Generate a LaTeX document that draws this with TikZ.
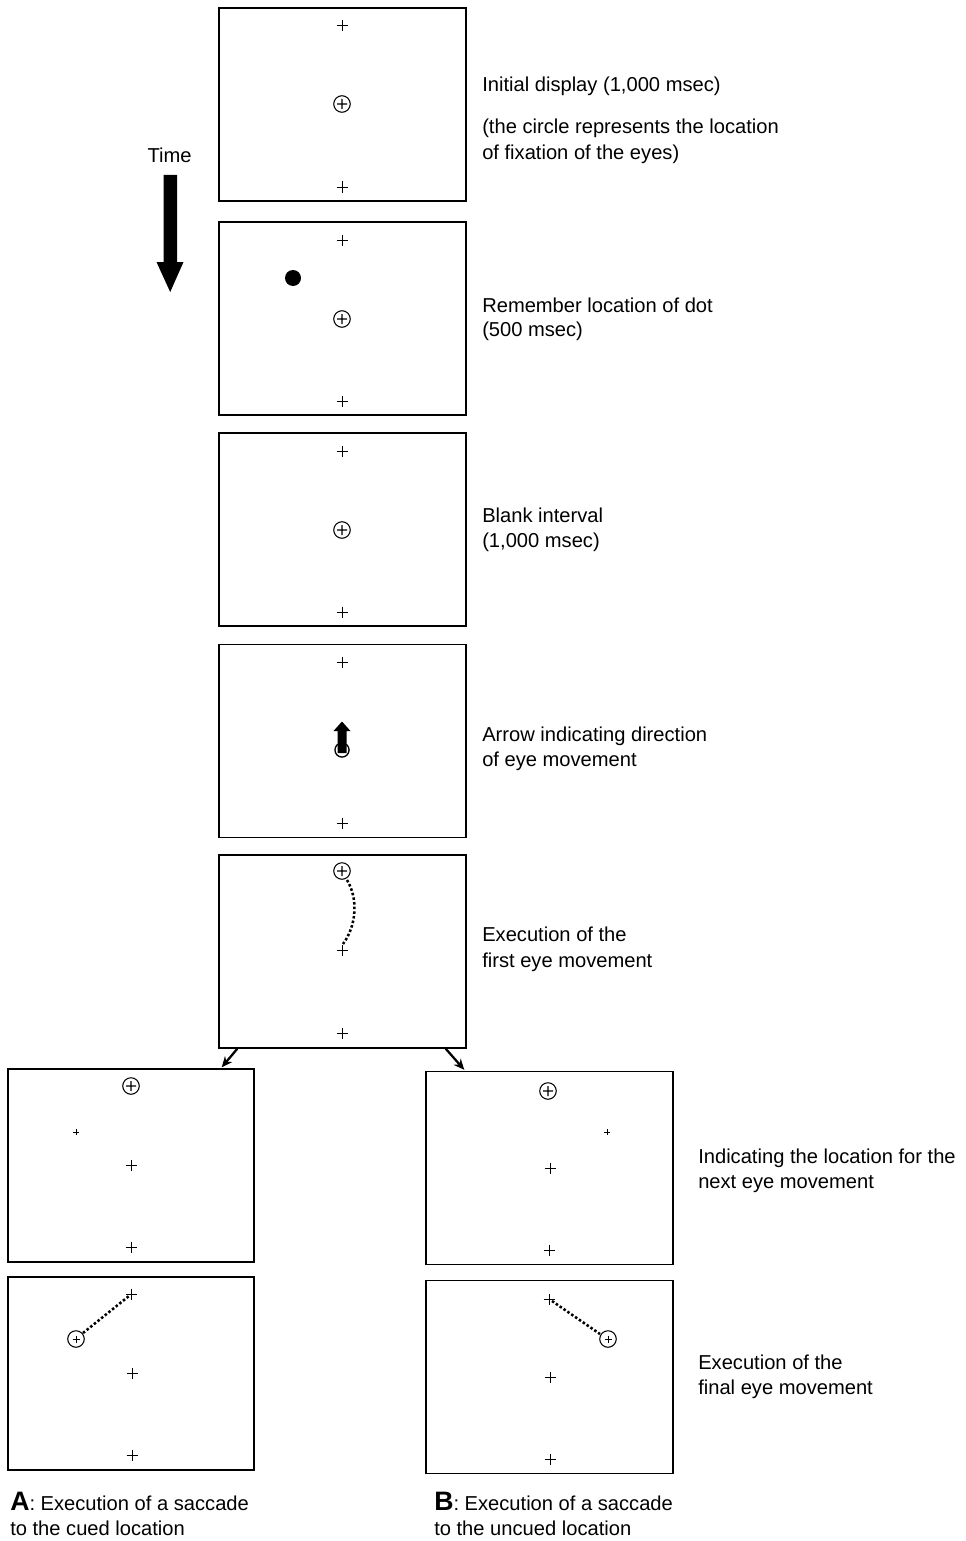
\documentclass[tikz,border=0pt]{standalone}
\usepackage{fontspec}
\setmainfont{Liberation Sans}
\usetikzlibrary{arrows.meta,calc}
\tikzset{
  panel/.style={draw, line width=1.1pt, minimum width=185.25pt, minimum height=144.75pt, inner sep=0pt},
  txt/.style={anchor=base west, inner sep=0pt, font=\fontsize{15.1pt}{18.75pt}\selectfont},
  crossmark/.pic={\draw[line width=0.75pt] (-5.5,0)--(5.5,0) (0,-5.5)--(0,5.5);},
  smallcross/.pic={\draw[line width=0.6pt] (-3,0)--(3,0) (0,-3)--(0,3);},
  fixmark/.pic={\draw[line width=0.8pt] (0,0) circle[radius=6.2pt] (-5,0)--(5,0) (0,-5)--(0,5);},
  fixsmall/.pic={\draw[line width=0.8pt] (0,0) circle[radius=6.2pt]; \draw[line width=0.6pt] (-3.5,0)--(3.5,0) (0,-3.5)--(0,3.5);},
  saccade/.style={line width=1.9pt, dash pattern=on 1.9pt off 1.6pt},
  branch/.style={line width=1.7pt, -{Stealth[length=8pt,width=7pt]}}
}
\begin{document}
\begin{tikzpicture}[x=0.75pt,y=-0.75pt]
\useasboundingbox (0,0) rectangle (965,1541);

% panels
\node[panel] (p1) at (342.5,104.5) {};
\node[panel] (p2) at (342.5,318.5) {};
\node[panel] (p3) at (342.5,529.5) {};
\node[panel] (p4) at (342.5,741) {};
\node[panel] (p5) at (342.5,951.5) {};
\node[panel, minimum width=184.5pt] (a1) at (131,1165.5) {};
\node[panel, minimum width=184.5pt] (a2) at (131,1373.5) {};
\node[panel] (b1) at (549.5,1168) {};
\node[panel] (b2) at (549.5,1377) {};

% panel 1
\pic at (342,26) {crossmark};
\pic at (342,104) {fixmark};
\pic at (342,187) {crossmark};
% panel 2
\pic at (342,240) {crossmark};
\fill (293,278) circle[radius=6pt];
\pic at (342,319) {fixmark};
\pic at (342,401) {crossmark};
% panel 3
\pic at (342,451) {crossmark};
\pic at (342,530) {fixmark};
\pic at (342,612) {crossmark};
% panel 4
\pic at (342,662) {crossmark};
\draw[line width=1pt] (342,750) circle[radius=5.3pt];
\fill (337.5,753) -- (337.5,731) -- (333.5,731) -- (342,721.5) -- (350.5,731) -- (346.5,731) -- (346.5,753) -- cycle;
\pic at (342,823) {crossmark};
% panel 5
\pic at (342,871) {fixmark};
\coordinate (c5s) at (347,880);
\coordinate (c5e) at (343,944);
\draw[saccade] (c5s) .. controls (358,898) and (357,925) .. (c5e);
\pic at (342,950) {crossmark};
\pic at (342,1033) {crossmark};
% branch arrows
\draw[branch] ($(p5.south west)+(19,0)$) -- ($(a1.north east)+(-33,-1)$);
\draw[branch] ($(p5.south east)+(-21,0)$) -- ($(b1.north west)+(39,-1)$);
% A1
\pic at (131,1086) {fixmark};
\pic at (76,1132) {smallcross};
\pic at (131,1165) {crossmark};
\pic at (131,1247) {crossmark};
% A2
\pic at (131,1294) {crossmark};
\pic at (76,1339) {fixsmall};
\coordinate (a2c) at (83,1333);
\coordinate (a2p) at (129,1296);
\draw[saccade] (a2c) -- (a2p);
\pic at (132,1373) {crossmark};
\pic at (132,1455) {crossmark};
% B1
\pic at (548,1091) {fixmark};
\pic at (607,1132) {smallcross};
\pic at (550,1168) {crossmark};
\pic at (549,1250) {crossmark};
% B2
\pic at (549,1299) {crossmark};
\pic at (608,1339) {fixsmall};
\coordinate (b2p) at (552,1301);
\coordinate (b2c) at (600,1334);
\draw[saccade] (b2p) -- (b2c);
\pic at (550,1377) {crossmark};
\pic at (550,1459) {crossmark};

% time arrow
\node[font=\fontsize{15.1pt}{16pt}\selectfont, anchor=base, inner sep=0pt] (time) at (169.5,163) {Time};
\fill (163.5,175) -- (177,175) -- (177,262) -- (183.5,262) -- (170.2,292) -- (156.5,262) -- (163.5,262) -- cycle;

% texts
\node[txt] (t1) at (482,92) {Initial display (1,000 msec)};
\node[txt] (t1b) at (482,134) {(the circle represents the location};
\node[txt] (t1c) at (482,160) {of fixation of the eyes)};
\node[txt] (t2) at (482,312) {Remember location of dot};
\node[txt] (t2b) at (482,336) {(500 msec)};
\node[txt] (t3) at (482,522) {Blank interval};
\node[txt] (t3b) at (482,547) {(1,000 msec)};
\node[txt] (t4) at (482,741) {Arrow indicating direction};
\node[txt] (t4b) at (482,766) {of eye movement};
\node[txt] (t5) at (482,941) {Execution of the};
\node[txt] (t5b) at (482,967) {first eye movement};
\node[txt] (t6) at (698,1163) {Indicating the location for the};
\node[txt] (t6b) at (698,1188) {next eye movement};
\node[txt] (t7) at (698,1369) {Execution of the};
\node[txt] (t7b) at (698,1394) {final eye movement};
\node[txt] (la) at (10,1510) {{\fontsize{20pt}{20pt}\selectfont\bfseries A}: Execution of a saccade};
\node[txt] (lab) at (10,1535) {to the cued location};
\node[txt] (lb) at (434,1510) {{\fontsize{20pt}{20pt}\selectfont\bfseries B}: Execution of a saccade};
\node[txt] (lbb) at (434,1535) {to the uncued location};
\end{tikzpicture}
\end{document}
